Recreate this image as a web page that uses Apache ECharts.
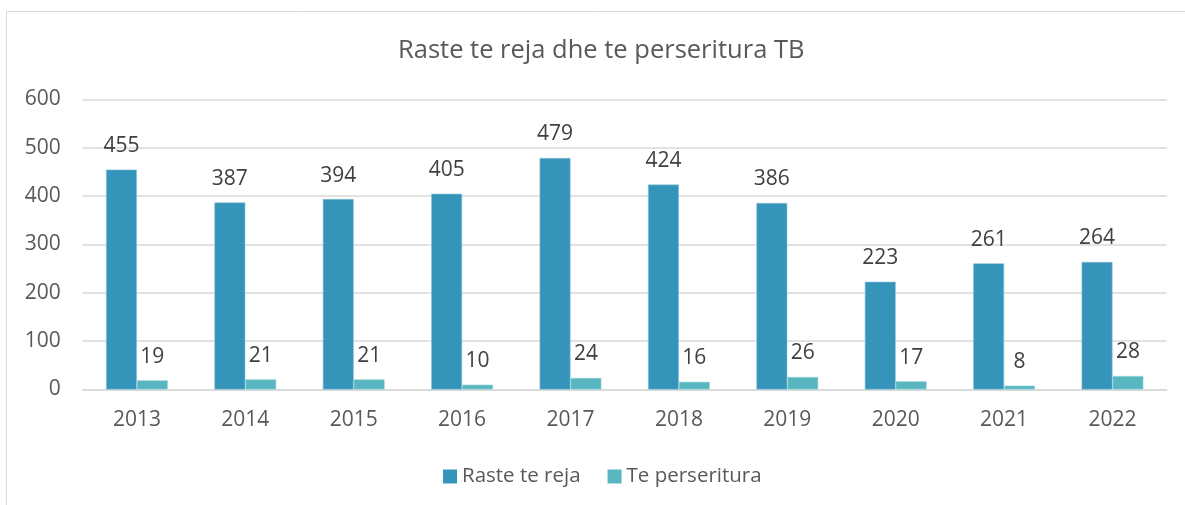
<!DOCTYPE html>
<html>
<head>
<meta charset="utf-8">
<script src="https://cdn.jsdelivr.net/npm/echarts@6/dist/echarts.min.js"></script>
<style>
html,body{margin:0;padding:0;background:#fff;}
#chart{width:1185px;height:505px;}
</style>
</head>
<body>
<div id="chart"></div>
<script>
const titleText = 'Raste te reja dhe te perseritura TB';
const categories = ['2013','2014','2015','2016','2017','2018','2019','2020','2021','2022'];
const seriesNames = ['Raste te reja','Te perseritura'];
const newCases = [455,387,394,405,479,424,386,223,261,264];
const repeatCases = [19,21,21,10,24,16,26,17,8,28];
const yTicks = {min:0, max:600, interval:100};

const font = '"Open Sans", "Liberation Sans", sans-serif';
const chart = echarts.init(document.getElementById('chart'));
chart.setOption({
  animation:false,
  textStyle:{fontFamily:font},
  graphic:[{
    type:'rect', silent:true, z:-1,
    shape:{x:6.5,y:11.5,width:1300,height:700},
    style:{fill:'none', stroke:'#d9d9d9', lineWidth:1}
  }],
  title:{
    text:titleText, left:393, top:33,
    textStyle:{fontFamily:font, fontSize:25.5, fontWeight:'normal', color:'#595959'}
  },
  legend:{
    data:seriesNames, left:438, top:461, itemWidth:14, itemHeight:14, itemGap:27,
    icon:'rect',
    itemStyle:{borderWidth:0},
    textStyle:{fontFamily:font, fontSize:20.5, color:'#595959'}
  },
  grid:{left:82.7, right:18.3, top:99.5, bottom:115.5, containLabel:false},
  xAxis:{
    type:'category', data:categories,
    axisLine:{show:true, lineStyle:{color:'#d9d9d9', width:1.5}},
    axisTick:{show:false},
    axisLabel:{fontFamily:font, fontSize:21, color:'#595959', margin:20}
  },
  yAxis:{
    type:'value', min:yTicks.min, max:yTicks.max, interval:yTicks.interval,
    axisLine:{show:false}, axisTick:{show:false},
    splitLine:{lineStyle:{color:'#d9d9d9', width:1.5}},
    axisLabel:{fontFamily:font, fontSize:21, color:'#595959', margin:22}
  },
  series:[{
    name:seriesNames[0], type:'bar', data:newCases,
    barGap:'0%', barCategoryGap:'43%',
    itemStyle:{color:'#3494BA', borderColor:'#8cc3d9', borderWidth:0.6},
    label:{show:true, position:'top', distance:13, fontFamily:font, fontSize:21, color:'#404040'}
  },{
    name:seriesNames[1], type:'bar', data:repeatCases,
    barGap:'0%', barCategoryGap:'43%',
    itemStyle:{color:'#58B6C0', borderColor:'#a0d6dc', borderWidth:0.6},
    label:{show:true, position:'top', distance:13, fontFamily:font, fontSize:21, color:'#404040'}
  }]
});
</script>
</body>
</html>
